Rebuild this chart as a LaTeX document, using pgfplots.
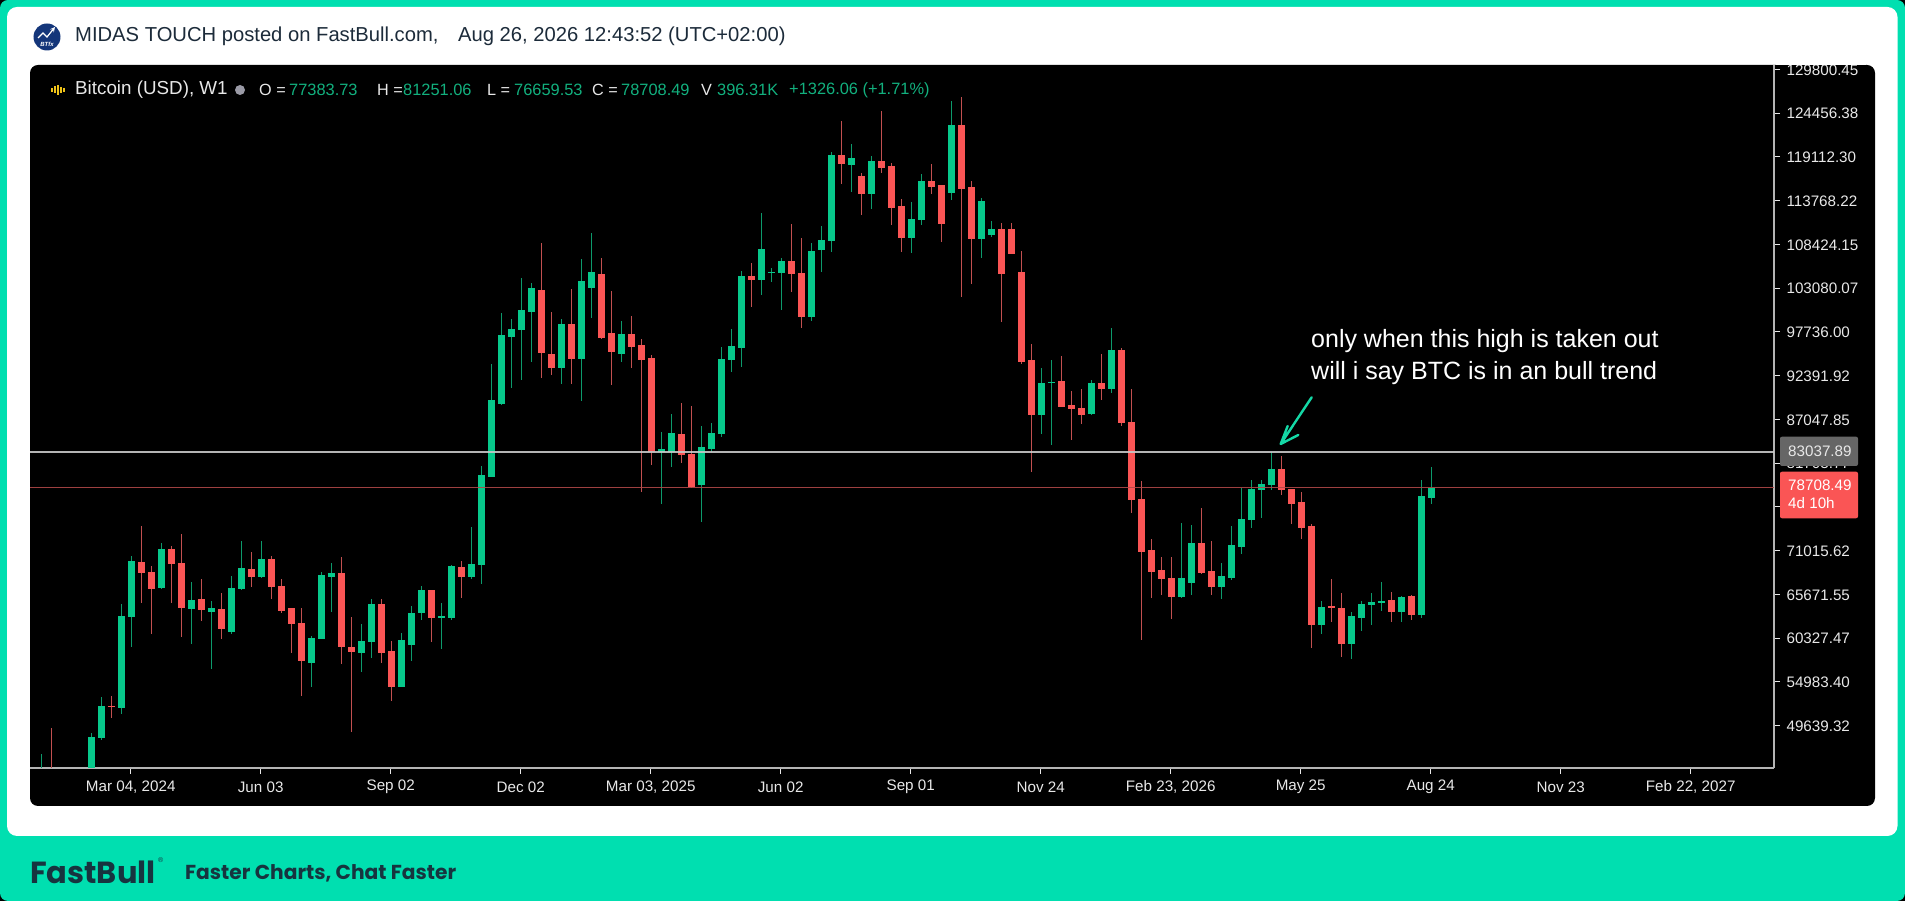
\documentclass[border=0pt]{standalone}
\usepackage{fontspec}
\setmainfont{Liberation Sans}
\newfontfamily\pop{Poppins}
\usepackage{pgfplots}
\usepackage{pgfplotstable}
\pgfplotsset{compat=1.18}
\definecolor{teal1}{HTML}{00DFB0}
\definecolor{candG}{HTML}{07C88B}
\definecolor{candR}{HTML}{FA5555}
\definecolor{wickG}{HTML}{0C9A6C}
\definecolor{wickR}{HTML}{C25050}
\definecolor{valG}{HTML}{12B07E}
\definecolor{ink}{HTML}{1C2B3A}
\definecolor{foot}{HTML}{17343F}
\definecolor{axgray}{HTML}{B4B4B4}
\definecolor{lbl}{HTML}{E8E8E8}
\definecolor{avatar}{HTML}{14367A}
\definecolor{yel}{HTML}{F0C419}
\definecolor{dot}{HTML}{9A9AA6}
\definecolor{lineW}{HTML}{C8C8C8}
\definecolor{lineR}{HTML}{B04848}
\definecolor{boxG}{HTML}{666666}
\definecolor{arrowc}{HTML}{14D8A6}
% i = week index, h = high, t = body top, b = body bottom, l = low
\pgfplotstableread{
i h t b l
0 46160 43500 42500 42000
5 48770 48280 44000 43500
6 53083 52065 48074 47870
8 64444 63059 51820 51006
9 70348 69737 62937 59272
12 71977 71203 66398 66317
15 67131 64932 63873 59557
17 64851 63996 63548 56503
19 67905 66439 61105 60819
20 72221 68882 66317 66195
22 72221 69982 67783 67660
27 60575 60372 57318 54305
28 68353 67986 60209 60168
29 69534 68271 67823 63548
32 62000 60005 58498 56218
33 65095 64484 59883 57847
36 60901 60046 54386 54345
37 64240 63426 59476 57561
38 66683 66154 63385 62530
40 64566 63018 62815 58946
41 69249 69127 62774 62530
43 73850 69371 67783 67498
44 81342 80202 69249 66928
45 93760 89363 80038 80000
46 99990 97303 88914 88833
47 99257 98117 97140 90869
48 104266 100398 97954 91846
49 103655 103126 100194 94086
52 99257 98728 93312 91358
54 106587 103900 94412 89240
55 109763 105000 103085 99380
58 99054 97466 95023 94086
62 85453 83377 83051 76698
63 87652 85413 83092 81259
66 86227 83702 78979 74500
67 86553 85413 83458 83092
68 95837 94412 85209 84842
69 98036 95959 94249 92865
70 105203 104551 95755 93475
72 112205 107888 104061 102228
73 105486 105079 104997 103857
74 106789 106341 104957 100396
77 108621 107562 99581 99052
78 110698 108906 107725 105079
79 119697 119331 108784 107522
81 120634 119005 118109 114851
83 119249 118557 114566 112734
87 113548 111512 109232 107358
88 116969 116113 111390 110779
91 125968 122995 114729 113833
94 114118 113711 109069 106789
95 111309 110332 109517 109354
100 93272 91522 87572 85251
101 94290 91644 91562 83907
105 91847 91522 87694 87572
107 98159 95512 90748 90218
114 74338 67700 65379 65176
115 74175 71976 67048 65624
118 69451 67863 66601 65094
119 74012 71650 67619 67415
120 78613 74867 71487 70551
121 79631 78491 74745 73767
122 79631 79102 78409 74989
123 83092 80975 78980 78409
128 64851 64159 61879 60779
131 63548 62978 59598 57725
132 64851 64485 62775 61227
133 65788 64770 64363 61879
134 67131 64811 64689 63671
136 65462 65381 63507 62327
138 79633 77637 63100 62815
139 81251.06 78708.49 77383.73 76659.53
}\upweeks
\pgfplotstableread{
i h t b l
1 49300 43500 42000 41500
7 53245 52065 51942 50517
10 74013 69656 68312 64566
11 69127 68434 66317 60779
13 71570 71203 69371 64566
14 72995 69493 64036 60494
16 67498 65054 63711 62449
18 65787 63833 61430 60168
21 70796 68719 67823 66602
23 70348 69982 66602 65054
24 67498 66643 63670 63426
25 63996 63996 62041 58458
26 63955 62163 57480 53286
30 70185 68312 59272 57155
31 62855 59272 58661 48807
34 65095 64484 58539 57236
35 59964 58702 54386 52675
39 66195 66154 62815 59842
42 69737 69045 67823 65177
50 108542 102841 95185 92090
51 100113 95023 93312 92457
53 102922 98687 94412 91358
56 106791 104795 96936 96814
57 102759 97629 95308 91236
59 99705 97466 95918 93353
60 96814 96081 94330 78205
61 94900 94534 83092 81422
64 88996 85250 82685 81748
65 88670 82807 78816 78694
71 106137 104549 104061 100803
75 110861 106341 104793 102636
76 109151 104957 99581 98238
80 123525 119290 118231 115788
82 117091 116765 114566 111951
84 124746 118557 117743 117091
85 118313 117946 112897 110779
86 113915 113060 109232 107522
89 118190 116154 115462 114566
90 115707 115666 110901 108743
92 126375 122995 115218 102025
93 116195 115381 109069 103572
96 110983 110332 104793 98971
97 110983 110332 107237 107196
98 107644 104997 94044 93799
99 96204 94250 87572 80649
102 94820 91684 88590 88508
103 90544 88752 88305 84518
104 90707 88468 87572 86472
106 94983 91522 90748 89404
108 95716 95512 86635 86228
109 90707 86757 77188 75641
110 79509 77269 70876 60086
111 72383 71040 68433 65176
112 70184 68596 67537 65624
113 70184 67659 65379 62611
116 76170 71976 68230 68148
117 72180 68474 66601 65542
124 82563 80975 78409 77799
125 78533 78533 76741 74258
126 78126 76904 73769 72425
127 74258 74013 61879 59110
129 67498 64240 64118 62327
130 65788 64037 59598 58051
135 65910 64933 63548 62286
137 65625 65421 63100 62490
}\downweeks
\newcommand{\fs}[1]{\fontsize{#1bp}{#1bp}\selectfont}
\begin{document}
\begin{tikzpicture}
\useasboundingbox (0,0) rectangle (1905bp,901bp);
\begin{scope}[x=1bp,y=-1bp,yshift=901bp]
\fill[black] (0,0) rectangle (1905,901);
\fill[teal1,rounded corners=8bp] (0,0) rectangle (1905,901);
\fill[white,rounded corners=10bp] (7,7) rectangle (1897.5,836);
\fill[black,rounded corners=8bp] (30,65) rectangle (1875,806);
% header
\fill[avatar] (47,37) circle (13.5bp);
\draw[white,line width=1.2bp,-stealth] (38,38) -- (43,33) -- (47,37) -- (55,27);
\node[white,font=\fs{6}\bfseries\itshape,inner sep=0] at (47,44.5) {BTfx};
\node[anchor=west,inner sep=0,text=ink,font=\fs{20.2}] at (75,36.5) {MIDAS TOUCH posted on FastBull.com,};
\node[anchor=west,inner sep=0,text=ink,font=\fs{20.2}] at (458,36.5) {Aug 26, 2026 12:43:52 (UTC+02:00)};
% legend row
\foreach \xx/\hh in {52/2,55/3.5,58/5,61/3,64/2}{\draw[yel,line width=1.6bp] (\xx,90-\hh) -- (\xx,90+\hh);}
\node[anchor=west,inner sep=0,text=lbl,font=\fs{18.8}] at (75,90) {Bitcoin (USD), W1};
\fill[dot] (240,90) circle (5bp);
\tikzset{lg/.style={anchor=west,inner sep=0,text=lbl,font=\fs{16.2}},lv/.style={anchor=west,inner sep=0,text=valG,font=\fs{16.4}}}
\node[lg] at (259,90) {O =}; \node[lv] at (289,90) {77383.73};
\node[lg] at (377,90) {H =}; \node[lv] at (403,90) {81251.06};
\node[lg] at (487,90) {L =}; \node[lv] at (514,90) {76659.53};
\node[lg] at (592,90) {C =}; \node[lv] at (621,90) {78708.49};
\node[lg] at (701,90) {V}; \node[lv] at (717,90) {396.31K};
\node[lv] at (789,90) {+1326.06 (+1.71\%)};
% footer
\node[anchor=west,inner sep=0,text=foot,font=\pop\fs{30.5}\bfseries] at (30,872) {FastBull};
\node[anchor=west,inner sep=0,text=foot,font=\fs{7}] at (158,860) {\textregistered};
\node[anchor=west,inner sep=0,text=foot,font=\pop\fs{20.2}\bfseries] at (185,873) {Faster Charts, Chat Faster};
\end{scope}
\begin{axis}[
  at={(30bp,133bp)},anchor=south west,
  width=1744bp,height=703bp,scale only axis,
  xmin=-1.17,xmax=173.23,ymin=44454,ymax=130326,
  axis x line*=bottom,axis y line*=right,
  axis line style={axgray,line width=1.1bp},
  tick style={lbl,line width=1bp},
  tick align=outside,
  major tick length=6bp,
  scaled y ticks=false,
  xtick={8.9,21.9,34.9,47.9,60.9,73.9,86.9,99.9,112.9,125.9,138.9,151.9,164.9},
  xticklabels={{Mar 04, 2024},Jun 03,Sep 02,Dec 02,{Mar 03, 2025},Jun 02,Sep 01,Nov 24,{Feb 23, 2026},May 25,Aug 24,Nov 23,{Feb 22, 2027}},
  ytick={49639.32,54983.40,60327.47,65671.55,71015.62,76359.70,81703.77,87047.85,92391.92,97736.00,103080.07,108424.15,113768.22,119112.30,124456.38,129800.45},
  yticklabels={49639.32,54983.40,60327.47,65671.55,71015.62,76359.70,81703.77,87047.85,92391.92,97736.00,103080.07,108424.15,113768.22,119112.30,124456.38,129800.45},
  tick label style={font=\fs{15.2},text=lbl},
  yticklabel style={anchor=west,xshift=3bp,yshift=-0.5bp},
  xticklabel style={anchor=center,yshift=-13bp},
  clip=true,
]
\addplot[draw=none,no markers,error bars/.cd,y dir=both,y explicit,error mark=none,error bar style={draw=wickG,line width=1.3bp}]
  table[x=i,y expr=(\thisrow{h}+\thisrow{l})/2,y error expr=(\thisrow{h}-\thisrow{l})/2]{\upweeks};
\addplot[draw=none,no markers,error bars/.cd,y dir=both,y explicit,error mark=none,error bar style={draw=wickR,line width=1.3bp}]
  table[x=i,y expr=(\thisrow{h}+\thisrow{l})/2,y error expr=(\thisrow{h}-\thisrow{l})/2]{\downweeks};
\addplot[draw=none,no markers,error bars/.cd,y dir=both,y explicit,error mark=none,error bar style={draw=candG,line width=6.5bp}]
  table[x=i,y expr=(\thisrow{t}+\thisrow{b})/2,y error expr=(\thisrow{t}-\thisrow{b})/2]{\upweeks};
\addplot[draw=none,no markers,error bars/.cd,y dir=both,y explicit,error mark=none,error bar style={draw=candR,line width=6.5bp}]
  table[x=i,y expr=(\thisrow{t}+\thisrow{b})/2,y error expr=(\thisrow{t}-\thisrow{b})/2]{\downweeks};
\addplot[lineW,line width=1.5bp,opacity=.9] coordinates {(-1.17,83037.89) (173.23,83037.89)};
\addplot[lineR,line width=1.6bp,opacity=.9] coordinates {(-1.17,78708.49) (173.23,78708.49)};
\end{axis}
\begin{scope}[x=1bp,y=-1bp,yshift=901bp]
\fill[white] (1776,55) rectangle (1866,65);
\fill[boxG,rounded corners=2bp] (1780,436.7) rectangle (1858,466);
\node[text=lbl,font=\fs{15.2},inner sep=0,anchor=west] at (1788,451.5) {83037.89};
\fill[candR,rounded corners=2bp] (1780,471.7) rectangle (1858,518.3);
\node[text=white,font=\fs{15.2},inner sep=0,anchor=west] at (1788,485.5) {78708.49};
\node[text=white,font=\fs{15.2},inner sep=0,anchor=west] at (1788,503) {4d 10h};
% annotation
\node[anchor=west,inner sep=0,text=white,font=\fs{25}] at (1311,341) {only when this high is taken out};
\node[anchor=west,inner sep=0,text=white,font=\fs{25}] at (1311,373) {will i say BTC is in an bull trend};
\draw[arrowc,line width=2.4bp,line cap=round,line join=round] (1311.7,397.3) -- (1280.7,444) (1287.7,426) -- (1280.7,444) -- (1298.3,435);
\end{scope}
\end{tikzpicture}
\end{document}
